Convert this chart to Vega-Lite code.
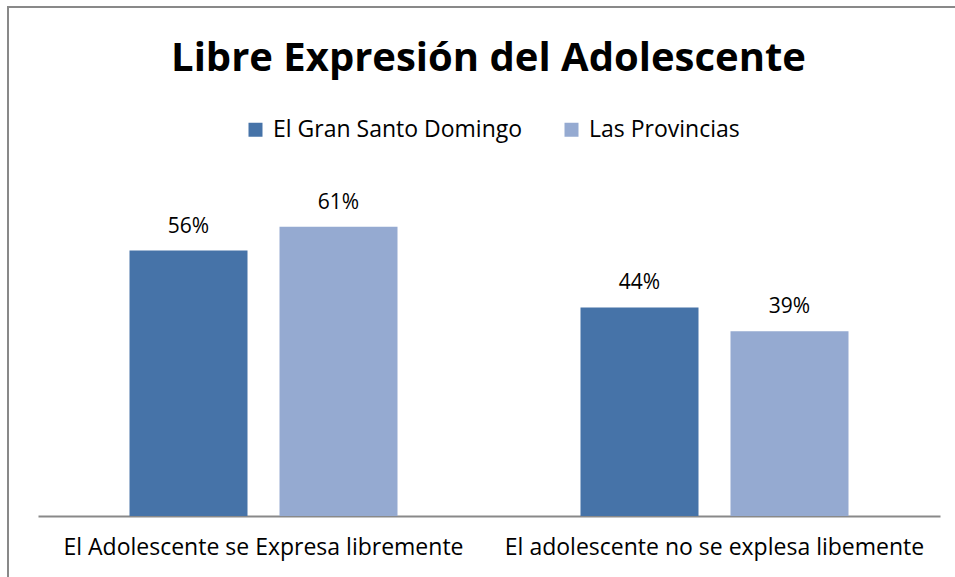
{
  "$schema": "https://vega.github.io/schema/vega-lite/v6.json",
  "width": 955,
  "height": 575,
  "autosize": {"type": "none"},
  "padding": {"left": 8, "top": 7, "right": 0, "bottom": 0},
  "background": "white",
  "config": {
    "view": {"stroke": "#898989", "strokeWidth": 2},
    "font": "Open Sans"
  },
  "title": {
    "text": "Libre Expresión del Adolescente",
    "fontSize": 40,
    "fontWeight": "bold",
    "anchor": "middle",
    "frame": "group",
    "baseline": "alphabetic",
    "offset": -104,
    "dx": 3,
    "color": "black"
  },
  "data": {
    "values": [
      {"cat": "El Adolescente se Expresa libremente", "grupo": "El Gran Santo Domingo", "valor": 0.56},
      {"cat": "El Adolescente se Expresa libremente", "grupo": "Las Provincias", "valor": 0.61},
      {"cat": "El adolescente no se explesa libemente", "grupo": "El Gran Santo Domingo", "valor": 0.44},
      {"cat": "El adolescente no se explesa libemente", "grupo": "Las Provincias", "valor": 0.39}
    ]
  },
  "encoding": {
    "x": {
      "field": "cat",
      "type": "nominal",
      "sort": null,
      "scale": {"range": [30, 932], "paddingInner": 0, "paddingOuter": 0},
      "axis": {
        "title": null,
        "labelAngle": 0,
        "orient": "bottom",
        "offset": -66,
        "domainColor": "#898989",
        "domainWidth": 2,
        "ticks": false,
        "labelPadding": 20,
        "labelFontSize": 23,
        "labelColor": "black",
        "labelLimit": 0
      }
    },
    "xOffset": {
      "field": "grupo",
      "sort": null,
      "scale": {"paddingInner": 0.2133, "paddingOuter": 0.61}
    },
    "y": {
      "field": "valor",
      "type": "quantitative",
      "scale": {"domain": [0, 1], "range": [509, 35]},
      "axis": null
    }
  },
  "layer": [
    {
      "mark": {"type": "bar"},
      "encoding": {
        "color": {
          "field": "grupo",
          "type": "nominal",
          "scale": {
            "domain": ["El Gran Santo Domingo", "Las Provincias"],
            "range": ["#4673A8", "#95AAD1"]
          },
          "legend": {
            "orient": "none",
            "legendX": 236,
            "legendY": 111,
            "direction": "horizontal",
            "title": null,
            "symbolType": "square",
            "symbolSize": 196,
            "symbolStrokeWidth": 0,
            "labelFontSize": 23,
            "labelColor": "black",
            "labelOffset": 6,
            "columnPadding": 37,
            "labelLimit": 0
          }
        }
      }
    },
    {
      "mark": {"type": "text", "baseline": "alphabetic", "dy": -18, "fontSize": 21, "color": "black"},
      "encoding": {
        "text": {"field": "valor", "type": "quantitative", "format": ".0%"}
      }
    }
  ]
}
